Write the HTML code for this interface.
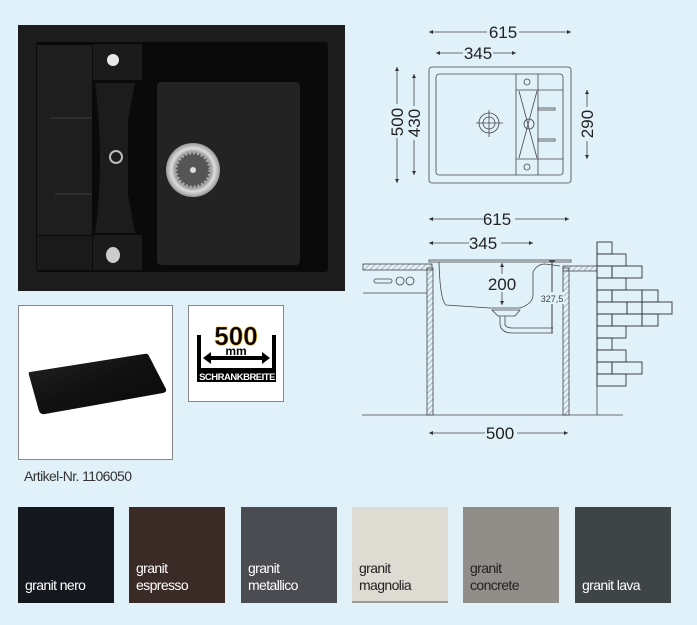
<!DOCTYPE html>
<html><head><meta charset="utf-8"><style>
html,body{margin:0;padding:0;}
body{width:697px;height:625px;background:#e0f1fa;position:relative;overflow:hidden;font-family:"Liberation Sans",sans-serif;}
.sw{position:absolute;top:507px;width:96px;height:96px;}
.sw span{position:absolute;left:7px;bottom:9px;font-size:14px;line-height:17px;letter-spacing:-0.6px;}
</style></head><body>
<svg width="697" height="625" style="position:absolute;left:0;top:0" xmlns="http://www.w3.org/2000/svg">
<defs>
<pattern id="h" width="4" height="4" patternUnits="userSpaceOnUse" patternTransform="rotate(45)"><line x1="0" y1="0" x2="0" y2="4" stroke="#666" stroke-width="0.8"/></pattern>
<marker id="a" viewBox="0 0 6 6" refX="6" refY="3" markerWidth="5" markerHeight="5" orient="auto-start-reverse"><path d="M0,0L6,3L0,6z" fill="#333"/></marker>
<radialGradient id="dr" cx="50%" cy="50%" r="50%"><stop offset="0" stop-color="#666"/><stop offset="0.6" stop-color="#777"/><stop offset="0.8" stop-color="#ddd"/><stop offset="1" stop-color="#999"/></radialGradient>
<linearGradient id="bd" x1="0" y1="0" x2="1" y2="1"><stop offset="0" stop-color="#222"/><stop offset="0.5" stop-color="#111"/><stop offset="1" stop-color="#0a0a0a"/></linearGradient>
</defs>
<!-- sink photo -->
<rect x="18" y="25" width="327" height="266" fill="#1c1c1c"/>
<rect x="36" y="42" width="292" height="230" rx="3" fill="#0a0a0a"/>
<rect x="37" y="45" width="55" height="190" fill="#1e1e1e"/>
<rect x="37" y="236" width="55" height="34" fill="#1a1a1a"/>
<rect x="93" y="44" width="49" height="36" fill="#1b1b1b"/>
<rect x="93" y="235" width="49" height="35" fill="#1b1b1b"/>
<path d="M95,83 L135,83 L128,120 L128,195 L135,233 L95,233 Q100,200 100,160 Q100,120 95,83z" fill="#1c1c1c"/>
<line x1="50" y1="118" x2="92" y2="118" stroke="#3a3a3a"/>
<line x1="55" y1="194" x2="92" y2="194" stroke="#3a3a3a"/>
<circle cx="113" cy="60" r="6" fill="#e8e8e8"/>
<ellipse cx="113" cy="255" rx="7" ry="8" fill="#ccc"/>
<circle cx="116" cy="157" r="6" fill="none" stroke="#bbb" stroke-width="2"/>
<rect x="157" y="82" width="143" height="183" rx="4" fill="#232323"/>
<circle cx="193" cy="170" r="27" fill="url(#dr)"/>
<circle cx="193" cy="170" r="17" fill="#555" stroke="#aaa" stroke-width="3" stroke-dasharray="2 2"/>
<circle cx="193" cy="170" r="3" fill="#ddd"/>
<!-- top view -->
<g stroke="#444" fill="none" stroke-width="0.8">
<line x1="429" y1="32" x2="571" y2="32" marker-start="url(#a)" marker-end="url(#a)"/>
<line x1="436" y1="53" x2="516" y2="53" marker-start="url(#a)" marker-end="url(#a)"/>
<line x1="397" y1="67" x2="397" y2="183" marker-start="url(#a)" marker-end="url(#a)"/>
<line x1="414" y1="74" x2="414" y2="175" marker-start="url(#a)" marker-end="url(#a)"/>
<line x1="587" y1="90" x2="587" y2="159" marker-start="url(#a)" marker-end="url(#a)"/>
<rect x="429" y="67" width="142" height="116" rx="3"/>
<rect x="436" y="74" width="127" height="101" rx="3"/>
<line x1="516" y1="74" x2="516" y2="175"/>
<line x1="538" y1="74" x2="538" y2="175"/>
<line x1="516" y1="90" x2="563" y2="90"/>
<line x1="516" y1="159" x2="563" y2="159"/>
<circle cx="527" cy="82" r="3"/><circle cx="527" cy="167" r="3"/>
<line x1="519" y1="91" x2="537" y2="158"/><line x1="537" y1="91" x2="519" y2="158"/>
<circle cx="529" cy="124" r="5"/>
<rect x="538" y="108" width="17" height="2"/><rect x="538" y="139" width="17" height="2"/>
<circle cx="489" cy="123" r="10"/><circle cx="489" cy="123" r="6"/>
<line x1="476" y1="123" x2="503" y2="123"/><line x1="489" y1="110" x2="489" y2="137"/>
</g>
<g font-size="17" fill="#222" text-anchor="middle">
<rect x="487" y="22" width="32" height="18" fill="#e0f1fa"/><text x="503" y="38">615</text>
<rect x="463" y="43" width="30" height="18" fill="#e0f1fa"/><text x="478" y="59">345</text>
<rect x="388" y="104" width="18" height="34" fill="#e0f1fa"/><text transform="translate(403,122) rotate(-90)">500</text>
<rect x="405" y="106" width="18" height="34" fill="#e0f1fa"/><text transform="translate(420,123) rotate(-90)">430</text>
<rect x="578" y="107" width="18" height="34" fill="#e0f1fa"/><text transform="translate(593,124) rotate(-90)">290</text>
</g>
<!-- side view -->
<g stroke="#444" fill="none" stroke-width="0.8">
<line x1="429" y1="219" x2="569" y2="219" marker-start="url(#a)" marker-end="url(#a)"/>
<line x1="429" y1="243" x2="533" y2="243" marker-start="url(#a)" marker-end="url(#a)"/>
<line x1="429" y1="433" x2="568" y2="433" marker-start="url(#a)" marker-end="url(#a)"/>
<rect x="363" y="264" width="69" height="6" fill="url(#h)"/>
<rect x="563" y="266" width="34" height="5" fill="url(#h)"/>
<rect x="427" y="268" width="6" height="147" fill="url(#h)"/>
<rect x="563" y="268" width="6" height="147" fill="url(#h)"/>
<line x1="363" y1="293" x2="427" y2="293"/>
<rect x="374" y="279" width="18" height="4" rx="2"/><circle cx="400" cy="281" r="4"/><circle cx="410" cy="281" r="4"/>
<line x1="362" y1="415" x2="623" y2="415"/>
<rect x="429" y="260" width="142" height="2"/>
<path d="M439,262 Q440,300 446,305 L490,308 L520,308 Q532,304 533,296 L533,272 Q537,264 545,264 L560,266"/>
<path d="M492,310 L520,310 L515,316 L498,316z"/>
<path d="M500,316 L500,325 Q502,333 512,333 L553,333 M505,316 L505,325 Q507,328 512,328 L553,328"/>
<line x1="502" y1="263" x2="502" y2="305" marker-start="url(#a)" marker-end="url(#a)"/>
<line x1="552" y1="261" x2="552" y2="333" stroke="#111"/>
<line x1="549" y1="261" x2="555" y2="261" stroke="#111"/>
<line x1="597" y1="242" x2="597" y2="415"/>
<g stroke="#333" stroke-width="0.9">
<rect x="597" y="242" width="15" height="12"/>
<rect x="597" y="254" width="29" height="12"/>
<rect x="597" y="266" width="15" height="12"/><rect x="612" y="266" width="30" height="12"/>
<rect x="597" y="278" width="29" height="12"/>
<rect x="597" y="290" width="15" height="12"/><rect x="612" y="290" width="30" height="12"/><rect x="642" y="290" width="16" height="12"/>
<rect x="597" y="302" width="30" height="12"/><rect x="627" y="302" width="15" height="12"/><rect x="642" y="302" width="30" height="12"/>
<rect x="597" y="314" width="15" height="12"/><rect x="612" y="314" width="30" height="12"/><rect x="642" y="314" width="16" height="12"/>
<rect x="597" y="326" width="29" height="12"/>
<rect x="597" y="338" width="15" height="12"/>
<rect x="597" y="350" width="29" height="12"/>
<rect x="597" y="362" width="15" height="12"/><rect x="612" y="362" width="30" height="12"/>
<rect x="597" y="374" width="29" height="12"/>
</g>
</g>
<g font-size="17" fill="#222" text-anchor="middle">
<rect x="483" y="209" width="32" height="18" fill="#e0f1fa"/><text x="497" y="225">615</text>
<rect x="469" y="233" width="32" height="18" fill="#e0f1fa"/><text x="483" y="249">345</text>
<rect x="488" y="274" width="32" height="18" fill="#e0f1fa"/><text x="502" y="290">200</text>
<rect x="485" y="423" width="32" height="18" fill="#e0f1fa"/><text x="500" y="439">500</text>
<rect x="540" y="292" width="24" height="12" fill="#e0f1fa"/><text x="552" y="302" font-size="9" fill="#444">327,5</text>
</g>
<!-- product box -->
<rect x="18.5" y="305.5" width="154" height="154" fill="#fff" stroke="#888"/>
<path d="M30,372 L144,354 Q148,353 149,356 L166,389 Q167,392 163,393 L45,414 Q41,415 39,411 L29,375 Q28,372 30,372Z" fill="url(#bd)"/>
<rect x="188.5" y="305.5" width="95" height="96" fill="#fff" stroke="#888"/>
<rect x="197" y="335" width="79" height="47" fill="#000"/>
<rect x="201" y="335" width="71" height="33" fill="#fff"/>
<path d="M203,358 L211,352 L211,356 L262,356 L262,352 L270,358 L262,364 L262,360 L211,360 L211,364 Z" fill="#000"/>
<rect x="210" y="322" width="52" height="28" fill="#fff"/>
<text x="236" y="345" font-size="26" font-weight="bold" text-anchor="middle" fill="#000" stroke="#e8a000" stroke-width="0.6">500</text>
<text x="236" y="355" font-size="12" font-weight="bold" text-anchor="middle" fill="#000">mm</text>
<text x="237" y="380" font-size="9.5" font-weight="bold" text-anchor="middle" fill="#fff" letter-spacing="-0.5">SCHRANKBREITE</text>
<text x="24" y="481" font-size="14" fill="#333" letter-spacing="-0.6">Artikel-Nr. 1106050</text>
</svg>
<div class="sw" style="left:18px;background:#14171d;color:#fff"><span>granit nero</span></div>
<div class="sw" style="left:129px;background:#3a2b27;color:#fff"><span>granit<br>espresso</span></div>
<div class="sw" style="left:241px;background:#4b4c51;color:#fff"><span>granit<br>metallico</span></div>
<div class="sw" style="left:352px;background:#dedbd3;color:#222;box-shadow:inset 0 -2px #999"><span>granit<br>magnolia</span></div>
<div class="sw" style="left:463px;background:#918d89;color:#222"><span>granit<br>concrete</span></div>
<div class="sw" style="left:575px;background:#3f4447;color:#fff"><span>granit lava</span></div>
</body></html>
